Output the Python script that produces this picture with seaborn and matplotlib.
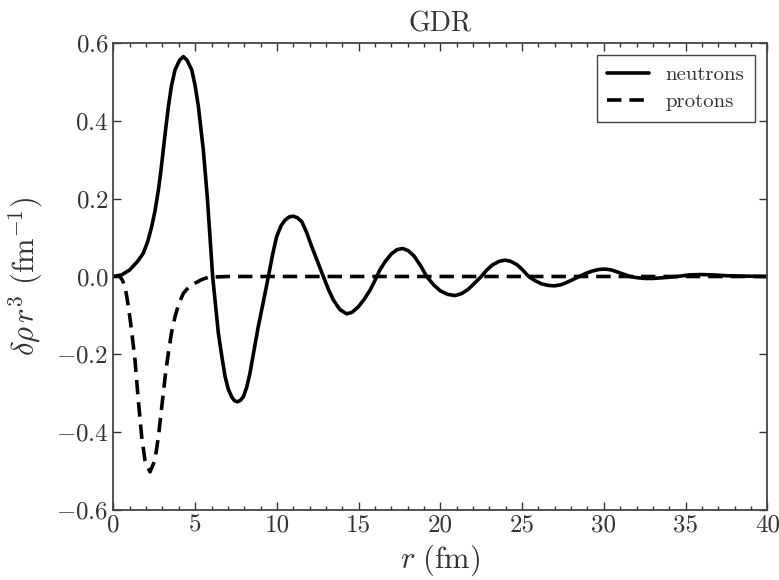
import numpy as np
import pandas as pd
import matplotlib
matplotlib.use("Agg")
import matplotlib.pyplot as plt
import seaborn as sns
from matplotlib.ticker import MultipleLocator

# --- data ---
r_neutrons = [0, 0.5, 1.0, 1.5, 1.83, 2.1, 2.34, 2.55, 2.75, 2.9, 3.05, 3.2, 3.36, 3.55,
              3.77, 4.05, 4.28, 4.5, 4.79, 5.0, 5.2, 5.35, 5.5, 5.75, 6.07, 6.42, 6.63,
              6.83, 7.03, 7.23, 7.4, 7.58, 7.77, 7.95, 8.15, 8.35, 8.6, 8.86, 9.17, 9.48,
              9.73, 9.98, 10.25, 10.5, 10.75, 11.0, 11.25, 11.52, 11.8, 12.13, 12.5, 12.84,
              13.15, 13.45, 13.85, 14.27, 14.6, 14.98, 15.35, 15.7, 16.0, 16.3, 16.65, 17.0,
              17.35, 17.7, 18.05, 18.4, 18.8, 19.16, 19.6, 20.0, 20.45, 20.9, 21.3, 21.7,
              22.1, 22.5, 22.85, 23.2, 23.6, 23.95, 24.3, 24.7, 25.05, 25.4, 25.8, 26.2,
              26.6, 27.0, 27.4, 27.8, 28.15, 28.5, 28.9, 29.3, 29.7, 30.07, 30.45, 30.8,
              31.2, 31.6, 32.0, 32.5, 33.0, 33.7, 34.5, 35.2, 35.9, 36.7, 37.5, 38.5, 40.0]
neutrons = [0, 0.004, 0.017, 0.04, 0.06, 0.09, 0.128, 0.17, 0.222, 0.27, 0.325, 0.38,
            0.436, 0.49, 0.531, 0.556, 0.565, 0.556, 0.531, 0.49, 0.436, 0.38, 0.325, 0.2,
            0.0, -0.146, -0.205, -0.257, -0.29, -0.309, -0.319, -0.322, -0.318, -0.309,
            -0.285, -0.249, -0.19, -0.129, -0.065, 0.0, 0.055, 0.102, 0.13, 0.145, 0.153,
            0.155, 0.151, 0.141, 0.115, 0.077, 0.037, 0.0, -0.033, -0.06, -0.085, -0.096,
            -0.092, -0.078, -0.058, -0.035, -0.01, 0.017, 0.04, 0.058, 0.069, 0.072, 0.066,
            0.052, 0.027, 0.0, -0.022, -0.037, -0.046, -0.049, -0.044, -0.033, -0.017, 0.0,
            0.017, 0.03, 0.039, 0.042, 0.039, 0.03, 0.016, 0.0, -0.011, -0.019, -0.023,
            -0.024, -0.021, -0.014, -0.007, 0.0, 0.008, 0.014, 0.018, 0.019, 0.017, 0.012,
            0.006, 0.0, -0.003, -0.005, -0.005, -0.003, 0.0, 0.004, 0.005, 0.004, 0.002,
            0.001, 0.0]

r_protons = [0, 0.4, 0.55, 0.71, 0.85, 1.0, 1.16, 1.32, 1.52, 1.73, 1.93, 2.24, 2.54, 2.75,
             3.05, 3.2, 3.36, 3.55, 3.77, 4.0, 4.28, 4.6, 5.0, 5.4, 5.8, 7.0, 40.0]
protons = [0, 0.0, -0.01, -0.026, -0.06, -0.103, -0.157, -0.215, -0.317, -0.412, -0.472,
           -0.502, -0.472, -0.412, -0.30, -0.245, -0.197, -0.145, -0.103, -0.07, -0.043,
           -0.028, -0.017, -0.008, -0.002, 0.0, 0.0]

x_ticks = [0, 5, 10, 15, 20, 25, 30, 35, 40]
y_ticks = [-0.6, -0.4, -0.2, 0.0, 0.2, 0.4, 0.6]

sns.set_style("white")
plt.rcParams.update({
    "font.family": "serif",
    "font.serif": ["cmr10", "DejaVu Serif"],
    "mathtext.fontset": "cm",
    "axes.formatter.use_mathtext": True,
    "axes.unicode_minus": True,
})

fig = plt.figure(figsize=(7.79, 5.8), dpi=100)
ax = fig.add_axes([0.1456, 0.1207, 0.8394, 0.8052])

sns.lineplot(x=r_neutrons, y=neutrons, ax=ax, color="black", lw=2.6,
             label="neutrons", sort=True)
sns.lineplot(x=r_protons, y=protons, ax=ax, color="black", lw=2.6,
             label="protons", sort=True)
ax.lines[1].set_dashes((4, 2.2))

ax.set_xlim(0, 40)
ax.set_ylim(-0.6, 0.6)
ax.set_xticks(x_ticks)
ax.set_yticks(y_ticks)
ax.set_xticklabels([str(t) for t in x_ticks])
ax.set_yticklabels([r"$%.1f$" % t for t in y_ticks])
ax.xaxis.set_minor_locator(MultipleLocator(1))

ax.tick_params(which="both", direction="in", top=True, right=True, bottom=True, left=True,
               labelsize=18, colors="#333333", width=1.0)
ax.tick_params(which="major", length=6)
ax.tick_params(which="minor", length=3)
ax.tick_params(axis="y", which="minor", left=False, right=False)
for sp in ax.spines.values():
    sp.set_color("#444444")
    sp.set_linewidth(1.3)

ax.set_xlabel(r"$r\ (\mathrm{fm})$", fontsize=22, color="#333333", labelpad=4)
ax.set_ylabel(r"$\delta\rho\, r^3\ (\mathrm{fm}^{-1})$", fontsize=22, color="#333333", labelpad=8)
ax.set_title("GDR", fontsize=20, color="#333333", pad=8)

leg = ax.legend(loc="upper right", fontsize=15, frameon=True, fancybox=False,
                edgecolor="#444444", framealpha=1, handlelength=2.0, borderpad=0.5,
                labelspacing=0.4, borderaxespad=0.6)
leg.get_frame().set_linewidth(1.0)
for t in leg.get_texts():
    t.set_color("#333333")

fig.savefig("out.png", dpi=100)
